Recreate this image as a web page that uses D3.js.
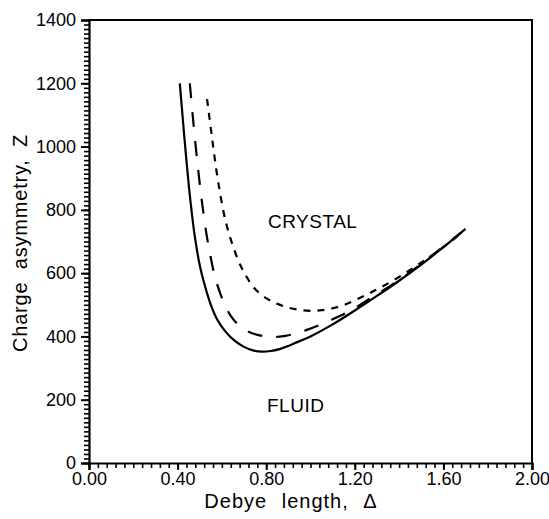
<!DOCTYPE html>
<html>
<head>
<meta charset="utf-8">
<script src="https://cdn.jsdelivr.net/npm/d3@7"></script>
<style>
  html, body { margin: 0; padding: 0; background: #fff; }
  svg { display: block; }
  text { font-family: "Liberation Sans", Arial, sans-serif; fill: #000; }
</style>
</head>
<body>
<svg id="chart" width="549" height="519"></svg>
<script>
// Freezing boundary: charge asymmetry Z against Debye length Δ
const solidDelta = [0.41, 0.425, 0.44, 0.46, 0.48, 0.50, 0.52, 0.55, 0.58, 0.62, 0.66, 0.70, 0.74, 0.78, 0.82,
                    0.86, 0.90, 0.94, 1.00, 1.10, 1.20, 1.30, 1.40, 1.50, 1.60, 1.70];
const solidZ     = [1200, 1075, 955, 815, 705, 625, 568, 500, 452, 412, 385, 367, 356, 352, 354,
                    360, 370, 382, 400, 438, 482, 528, 576, 627, 682, 740];

const longDelta = [0.455, 0.47, 0.49, 0.51, 0.53, 0.55, 0.57, 0.60, 0.64, 0.68, 0.72, 0.76, 0.80, 0.84, 0.88, 0.92,
                   0.98, 1.04, 1.10, 1.16, 1.22, 1.28, 1.36, 1.44, 1.52, 1.60, 1.68];
const longZ     = [1200, 1085, 945, 825, 725, 648, 585, 522, 465, 433, 415, 405, 400, 398, 401, 407,
                   420, 436, 454, 474, 498, 525, 560, 598, 640, 684, 728];

const shortDelta = [0.533, 0.555, 0.582, 0.62, 0.673, 0.71, 0.75, 0.80, 0.85, 0.90, 0.95, 1.00, 1.05, 1.10,
                    1.15, 1.20, 1.26, 1.32, 1.40, 1.48, 1.56, 1.64, 1.68];
const shortZ     = [1150, 1030, 894, 755, 642, 590, 550, 521, 503, 491, 484, 481, 483, 489,
                    499, 514, 534, 556, 588, 624, 662, 704, 726];

const xTickValues = [0.0, 0.4, 0.8, 1.2, 1.6, 2.0];
const yTickValues = [0, 200, 400, 600, 800, 1000, 1200, 1400];

const svg = d3.select("#chart");
const plotLeft = 89, plotRight = 532, plotTop = 20, plotBottom = 463;

const x = d3.scaleLinear().domain([0, 2]).range([plotLeft, plotRight]);
const y = d3.scaleLinear().domain([0, 1400]).range([plotBottom, plotTop]);

// frame (top and right edges)
svg.append("path")
  .attr("d", `M${plotLeft},${plotTop}H${plotRight}V${plotBottom}`)
  .attr("fill", "none").attr("stroke", "#000").attr("stroke-width", 2);

// x axis: minor ticks every 0.04
const xMinor = d3.range(0, 51).map(i => i * 0.04);
svg.append("g")
  .attr("transform", `translate(0,${plotBottom})`)
  .call(d3.axisBottom(x).tickValues(xMinor).tickSize(5).tickFormat(""))
  .call(g => g.select(".domain").remove())
  .call(g => g.selectAll("line").attr("stroke-width", 1.6));
svg.append("g")
  .attr("transform", `translate(0,${plotBottom})`)
  .call(d3.axisBottom(x).tickValues(xTickValues).tickSize(7).tickPadding(2)
        .tickFormat(d3.format(".2f")))
  .call(g => g.select(".domain").attr("stroke-width", 2.2))
  .call(g => g.selectAll("line").attr("stroke-width", 2))
  .call(g => g.selectAll("text").attr("font-size", 18)
        .attr("font-family", "Liberation Sans, Arial, sans-serif"));

// y axis: minor ticks, 14 per major interval
const yMinor = d3.range(0, 99).map(i => i * 1400 / 98);
svg.append("g")
  .attr("transform", `translate(${plotLeft},0)`)
  .call(d3.axisLeft(y).tickValues(yMinor).tickSize(5).tickFormat(""))
  .call(g => g.select(".domain").remove())
  .call(g => g.selectAll("line").attr("stroke-width", 1.6));
svg.append("g")
  .attr("transform", `translate(${plotLeft},0)`)
  .call(d3.axisLeft(y).tickValues(yTickValues).tickSize(8).tickPadding(5)
        .tickFormat(d3.format("d")))
  .call(g => g.select(".domain").attr("stroke-width", 2.2))
  .call(g => g.selectAll("line").attr("stroke-width", 2))
  .call(g => g.selectAll("text").attr("font-size", 18)
        .attr("font-family", "Liberation Sans, Arial, sans-serif"));

// boundary curves
const line = d3.line()
  .x(d => x(d[0]))
  .y(d => y(d[1]))
  .curve(d3.curveCatmullRom.alpha(0.5));

const series = [
  { delta: solidDelta, z: solidZ, dash: null, width: 2.2 },
  { delta: longDelta, z: longZ, dash: "15,14", width: 2.2 },
  { delta: shortDelta, z: shortZ, dash: "7,7", width: 2.2 }
];

series.forEach(s => {
  const pts = s.delta.map((d, i) => [d, s.z[i]]);
  svg.append("path")
    .attr("d", line(pts))
    .attr("fill", "none")
    .attr("stroke", "#000")
    .attr("stroke-width", s.width)
    .attr("stroke-dasharray", s.dash);
});

// region labels
svg.append("text").attr("x", 268).attr("y", 228)
  .attr("font-size", 19).attr("letter-spacing", 0.5).text("CRYSTAL");
svg.append("text").attr("x", 267).attr("y", 412)
  .attr("font-size", 19).attr("letter-spacing", 0.5).text("FLUID");

// axis titles
svg.append("text")
  .attr("x", 291).attr("y", 508)
  .attr("text-anchor", "middle")
  .attr("font-size", 20).attr("letter-spacing", 1).attr("word-spacing", 8)
  .text("Debye length, Δ");

svg.append("text")
  .attr("transform", "translate(27,243) rotate(-90)")
  .attr("text-anchor", "middle")
  .attr("font-size", 20).attr("letter-spacing", 0.8).attr("word-spacing", 6)
  .text("Charge asymmetry, Z");
</script>
</body>
</html>
